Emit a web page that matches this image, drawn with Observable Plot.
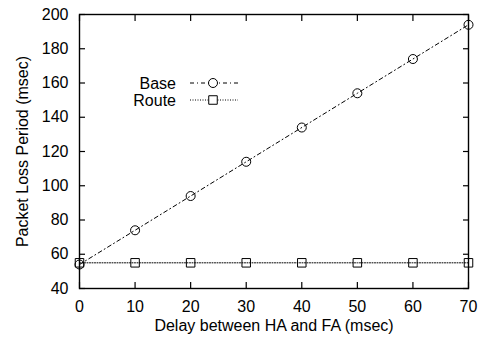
<!DOCTYPE html>
<html><head><meta charset="utf-8">
<script src="https://cdn.jsdelivr.net/npm/d3@7"></script>
<script src="https://cdn.jsdelivr.net/npm/@observablehq/plot@0.6"></script>
<style>body{margin:0;background:#fff}</style>
</head><body><div id="chart"></div>
<script>
const delay = [0, 10, 20, 30, 40, 50, 60, 70];
const base = [54, 74, 94, 114, 134, 154, 174, 194];
const route = [55, 55, 55, 55, 55, 55, 55, 55];
const seriesNames = ["Base", "Route"];
const xTicks = [0, 10, 20, 30, 40, 50, 60, 70];
const yTicks = [40, 60, 80, 100, 120, 140, 160, 180, 200];
const xLabel = "Delay between HA and FA (msec)";
const yLabel = "Packet Loss Period (msec)";

const baseData = delay.map((d, i) => ({x: d, y: base[i]}));
const routeData = delay.map((d, i) => ({x: d, y: route[i]}));
const font = "'Liberation Sans', Arial, sans-serif";

const plot = Plot.plot({
  width: 482, height: 347,
  marginLeft: 79, marginRight: 14, marginTop: 14, marginBottom: 59,
  style: {fontFamily: font, fontSize: "16px", color: "#000", background: "#fff"},
  x: {domain: [0, 70]},
  y: {domain: [40, 200]},
  marks: [
    Plot.axisX({ticks: xTicks, tickSize: -6, tickPadding: 18, label: null, strokeWidth: 1.2, fontSize: 16}),
    Plot.axisX({anchor: "top", ticks: xTicks, tickSize: -6, tickFormat: () => "", label: null, strokeWidth: 1.2}),
    Plot.axisY({ticks: yTicks, tickSize: -6, tickPadding: 17, label: null, strokeWidth: 1.2, fontSize: 16}),
    Plot.axisY({anchor: "right", ticks: yTicks, tickSize: -6, tickFormat: () => "", label: null, strokeWidth: 1.2}),
    Plot.line(baseData, {x: "x", y: "y", stroke: "#000", strokeWidth: 1, strokeDasharray: "4,3,1,3"}),
    Plot.line(routeData, {x: "x", y: "y", stroke: "#000", strokeWidth: 1, strokeDasharray: "1,1.5"}),
    Plot.dot(baseData, {x: "x", y: "y", symbol: "circle", r: 4.5, stroke: "#000", fill: "none", strokeWidth: 1}),
    Plot.dot(routeData, {x: "x", y: "y", symbol: "square", r: 4.8, stroke: "#000", fill: "none", strokeWidth: 1}),
    Plot.frame({stroke: "#000", strokeWidth: 1.4}),
    Plot.text([xLabel], {frameAnchor: "bottom", dy: 42, text: d => d, fontSize: 16, fill: "#000", textAnchor: "middle"}),
    Plot.text([yLabel], {frameAnchor: "left", dx: -57, rotate: -90, text: d => d, fontSize: 16, fill: "#000", textAnchor: "middle"})
  ]
});

// legend (inside the frame, offsets from top-left of frame)
const svg = d3.select(plot);
const fx = 79, fy = 14;
const leg = svg.append("g").attr("transform", `translate(${fx},${fy})`).attr("font-family", font).attr("font-size", 16);
const rows = [
  {name: seriesNames[0], dash: "4,3,1,3", symbol: d3.symbolCircle, r: 4.5, dy: 69},
  {name: seriesNames[1], dash: "1,1.5", symbol: d3.symbolSquare, r: 4.8, dy: 86}
];
rows.forEach(r => {
  leg.append("text").attr("x", 97).attr("y", r.dy).attr("dy", "0.35em").attr("text-anchor", "end").attr("fill", "#000").text(r.name);
  leg.append("line").attr("x1", 111).attr("x2", 159).attr("y1", r.dy).attr("y2", r.dy)
    .attr("stroke", "#000").attr("stroke-dasharray", r.dash);
  leg.append("path").attr("d", d3.symbol(r.symbol, r.r * r.r * Math.PI)())
    .attr("transform", `translate(134,${r.dy})`).attr("fill", "#fff").attr("stroke", "#000");
});

document.getElementById("chart").appendChild(plot);
</script>
</body></html>
